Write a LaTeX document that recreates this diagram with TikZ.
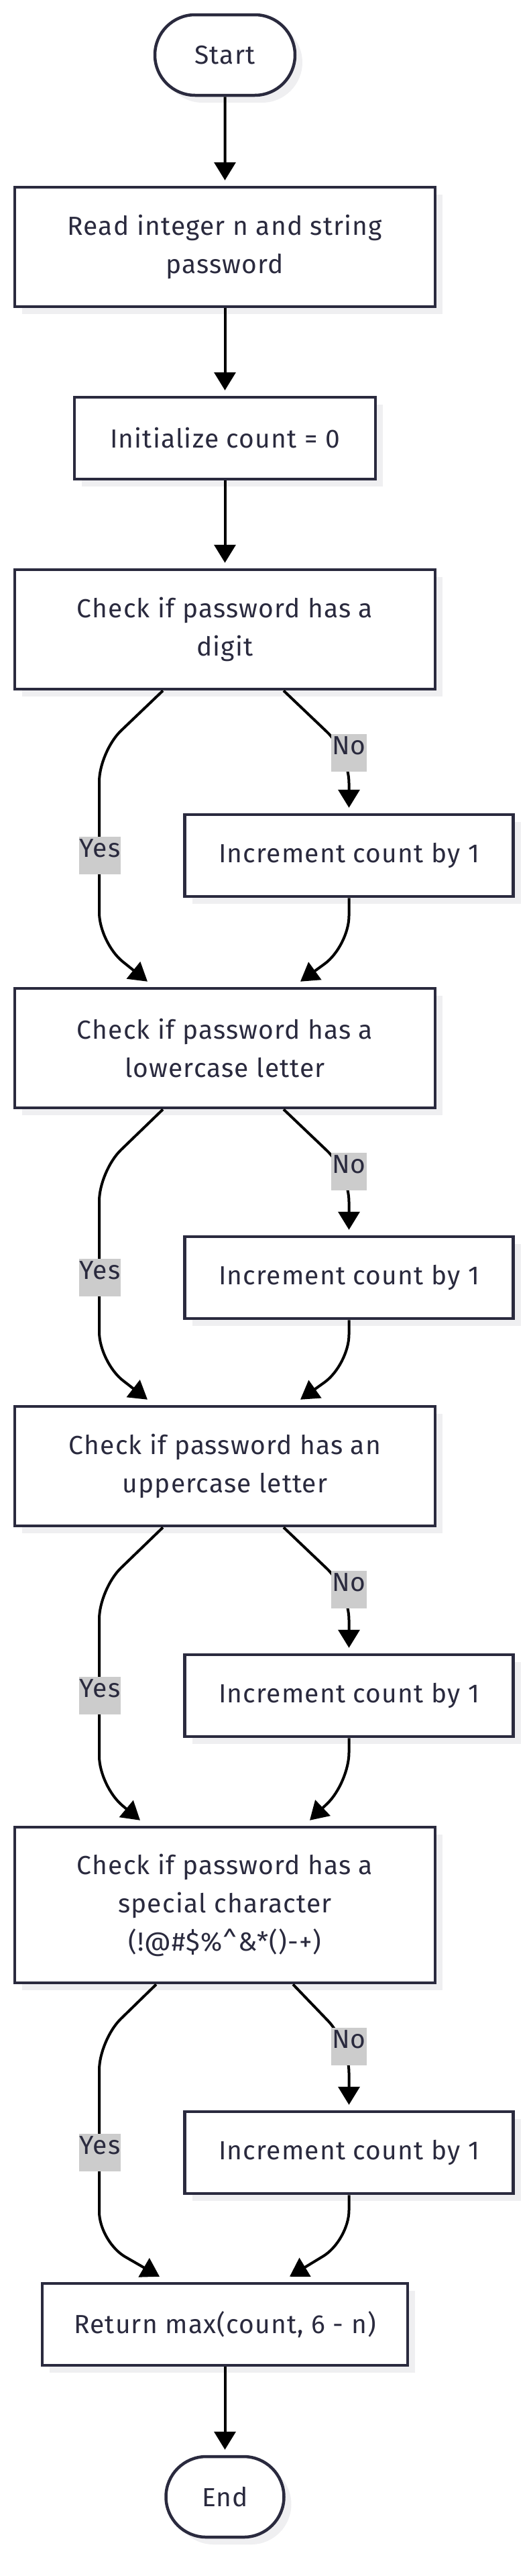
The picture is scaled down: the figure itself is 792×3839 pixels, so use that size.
\documentclass[tikz,border=0pt]{standalone}
\usepackage{fontspec}
\setmainfont{Fira Sans}[LetterSpace=3]
\usetikzlibrary{arrows.meta,shapes.misc}
\definecolor{navy}{RGB}{42,42,62}
\definecolor{shade}{RGB}{239,239,241}
\definecolor{lblbg}{RGB}{204,204,204}
\begin{document}
\begin{tikzpicture}[x=1pt,y=-1pt,
  shadowed/.style={preaction={draw=none,fill=shade,transform canvas={xshift=11pt,yshift=-11pt}}},
  box/.style={draw=navy,line width=4.5pt,fill=white,text=navy,font=\fontsize{39}{57}\selectfont,align=center,inner sep=0pt,shadowed},
  term/.style={box,rounded rectangle},
  lbl/.style={fill=lblbg,text=navy,font=\fontsize{39}{57}\selectfont,inner xsep=1pt,inner ysep=0pt,minimum height=56pt,text height=0.75em,text depth=0.25em},
  arr/.style={line width=4pt,draw=black,-{Triangle[width=32pt,length=27pt]},rounded corners=45pt}
]
\useasboundingbox (0,0) rectangle (792,3839);
% nodes
\node[term,minimum width=209pt,minimum height=120pt] (start) at (335.5,82) {Start};
\node[box,minimum width=627pt,minimum height=178pt] (read) at (335.5,368) {Read integer n and string\\password};
\node[box,minimum width=449pt,minimum height=122pt] (init) at (335.5,653) {Initialize count = 0};
\node[box,minimum width=627pt,minimum height=178pt] (dig) at (335.5,938) {Check if password has a\\digit};
\node[box,minimum width=490pt,minimum height=122pt] (inc1) at (520.5,1275) {Increment count by 1};
\node[box,minimum width=627pt,minimum height=178pt] (low) at (335.5,1562) {Check if password has a\\lowercase letter};
\node[box,minimum width=490pt,minimum height=122pt] (inc2) at (520.5,1904) {Increment count by 1};
\node[box,minimum width=627pt,minimum height=178pt] (up) at (335.5,2185) {Check if password has an\\uppercase letter};
\node[box,minimum width=490pt,minimum height=122pt] (inc3) at (520.5,2527) {Increment count by 1};
\node[box,minimum width=627pt,minimum height=232pt] (spec) at (335.5,2839) {Check if password has a\\special character\\(!@\#\$\%\textasciicircum\&*()-+)};
\node[box,minimum width=490pt,minimum height=122pt] (inc4) at (520.5,3208) {Increment count by 1};
\node[box,minimum width=545pt,minimum height=122pt] (ret) at (335.5,3464) {Return max(count, 6 - n)};
\node[term,minimum width=176pt,minimum height=120pt] (end) at (335.5,3721) {End};
% straight connectors
\draw[arr] (start) -- ([yshift=8pt]read.north);
\draw[arr] (read) -- ([yshift=8pt]init.north);
\draw[arr] (init) -- ([yshift=8pt]dig.north);
\draw[arr] (ret) -- ([yshift=8pt]end.north);
% block 1
\draw[arr] ([xshift=-92.5pt]dig.south) -- (148,1120) -- (148,1405) -- ([xshift=-115.5pt,yshift=8pt]low.north);
\draw[arr] ([xshift=87.5pt]dig.south) -- (520.5,1122) -- ([yshift=8pt]inc1.north);
\draw[arr] (inc1.south) -- (520.5,1410) -- ([xshift=112.5pt,yshift=8pt]low.north);
\node[lbl] (no1) at (520.5,1122) {No};
\node[lbl] (yes1) at (149,1275) {Yes};
% block 2
\draw[arr] ([xshift=-92.5pt]low.south) -- (148,1745) -- (148,2030) -- ([xshift=-115.5pt,yshift=8pt]up.north);
\draw[arr] ([xshift=87.5pt]low.south) -- (520.5,1746) -- ([yshift=8pt]inc2.north);
\draw[arr] (inc2.south) -- (520.5,2034) -- ([xshift=112.5pt,yshift=8pt]up.north);
\node[lbl] (no2) at (520.5,1746) {No};
\node[lbl] (yes2) at (149,1904) {Yes};
% block 3
\draw[arr] ([xshift=-92.5pt]up.south) -- (148,2368) -- (148,2662) -- ([xshift=-126.5pt,yshift=8pt]spec.north);
\draw[arr] ([xshift=87.5pt]up.south) -- (520.5,2369) -- ([yshift=8pt]inc3.north);
\draw[arr] (inc3.south) -- (520.5,2657) -- ([xshift=126.5pt,yshift=8pt]spec.north);
\node[lbl] (no3) at (520.5,2369) {No};
\node[lbl] (yes3) at (149,2527) {Yes};
% block 4
\draw[arr] ([xshift=-102.5pt]spec.south) -- (148,3040) -- (148,3341) -- ([xshift=-97.5pt,yshift=8pt]ret.north);
\draw[arr] ([xshift=101.5pt]spec.south) -- (520.5,3044) -- ([yshift=8pt]inc4.north);
\draw[arr] (inc4.south) -- (520.5,3339) -- ([xshift=96.5pt,yshift=8pt]ret.north);
\node[lbl] (no4) at (520.5,3050) {No};
\node[lbl] (yes4) at (149,3208) {Yes};
\end{tikzpicture}
\end{document}
